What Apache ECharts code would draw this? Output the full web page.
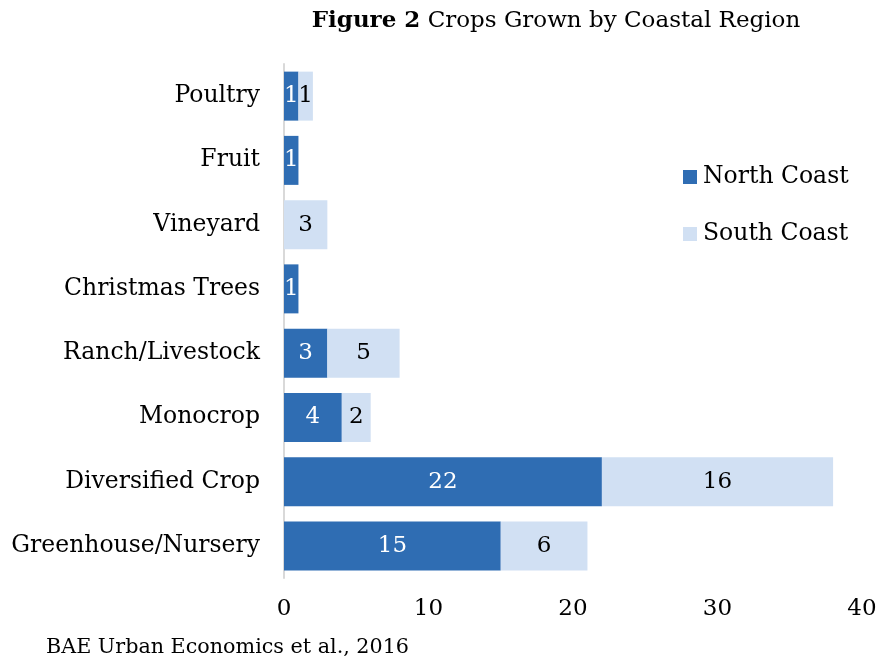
<!DOCTYPE html>
<html>
<head>
<meta charset="utf-8">
<script src="https://cdn.jsdelivr.net/npm/echarts@6/dist/echarts.min.js"></script>
<style>
  html, body { margin: 0; padding: 0; background: #fff; }
  #main { width: 882px; height: 663px; }
</style>
</head>
<body>
<div id="main"></div>
<script>
var categories = ['Poultry', 'Fruit', 'Vineyard', 'Christmas Trees', 'Ranch/Livestock',
                  'Monocrop', 'Diversified Crop', 'Greenhouse/Nursery'];
var northCoast = [1, 1, null, 1, 3, 4, 22, 15];
var southCoast = [1, null, 3, null, 5, 2, 16, 6];
var xTicks = [0, 10, 20, 30, 40];

var FONT = 'DejaVu Serif';
var myChart = echarts.init(document.getElementById('main'));

var option = {
    backgroundColor: '#fff',
    textStyle: { fontFamily: FONT },
    title: {
        text: '{b|Figure 2} Crops Grown by Coastal Region',
        left: 551,
        textAlign: 'center',
        top: 5,
        textStyle: {
            fontFamily: FONT,
            fontSize: 23,
            fontWeight: 'normal',
            color: '#000',
            rich: {
                b: { fontFamily: FONT, fontSize: 23, fontWeight: 'bold', color: '#000' }
            }
        }
    },
    legend: {
        orient: 'vertical',
        left: 678,
        top: 160,
        itemWidth: 14,
        itemHeight: 14,
        itemGap: 33,
        icon: 'rect',
        textStyle: { fontFamily: FONT, fontSize: 23.5, color: '#000', padding: [0, 0, 0, 1] },
        data: ['North Coast', 'South Coast']
    },
    grid: {
        left: 284,
        right: 20,
        top: 64,
        bottom: 85,
        containLabel: false
    },
    xAxis: {
        type: 'value',
        min: xTicks[0],
        max: xTicks[xTicks.length - 1],
        interval: 10,
        axisLine: { show: false },
        axisTick: { show: false },
        splitLine: { show: false },
        axisLabel: { fontFamily: FONT, fontSize: 23, color: '#000', margin: 20 }
    },
    yAxis: {
        type: 'category',
        inverse: true,
        data: categories,
        axisLine: { show: true, lineStyle: { color: '#d9d9d9', width: 2 } },
        axisTick: { show: false },
        axisLabel: { fontFamily: FONT, fontSize: 23.5, color: '#000', margin: 24 }
    },
    series: [
        {
            name: 'North Coast',
            type: 'bar',
            stack: 'total',
            barWidth: 49,
            itemStyle: { color: '#2f6db3' },
            label: {
                show: true,
                position: 'inside',
                color: '#fff',
                fontFamily: FONT,
                fontSize: 23
            },
            data: northCoast
        },
        {
            name: 'South Coast',
            type: 'bar',
            stack: 'total',
            barWidth: 49,
            itemStyle: { color: '#d1e0f3' },
            label: {
                show: true,
                position: 'inside',
                color: '#000',
                fontFamily: FONT,
                fontSize: 23
            },
            data: southCoast
        }
    ],
    graphic: [
        {
            type: 'text',
            left: 46,
            top: 637,
            style: {
                text: 'BAE Urban Economics et al., 2016',
                fontFamily: FONT,
                fontSize: 20.7,
                fill: '#000'
            }
        }
    ]
};

myChart.setOption(option);
</script>
</body>
</html>
